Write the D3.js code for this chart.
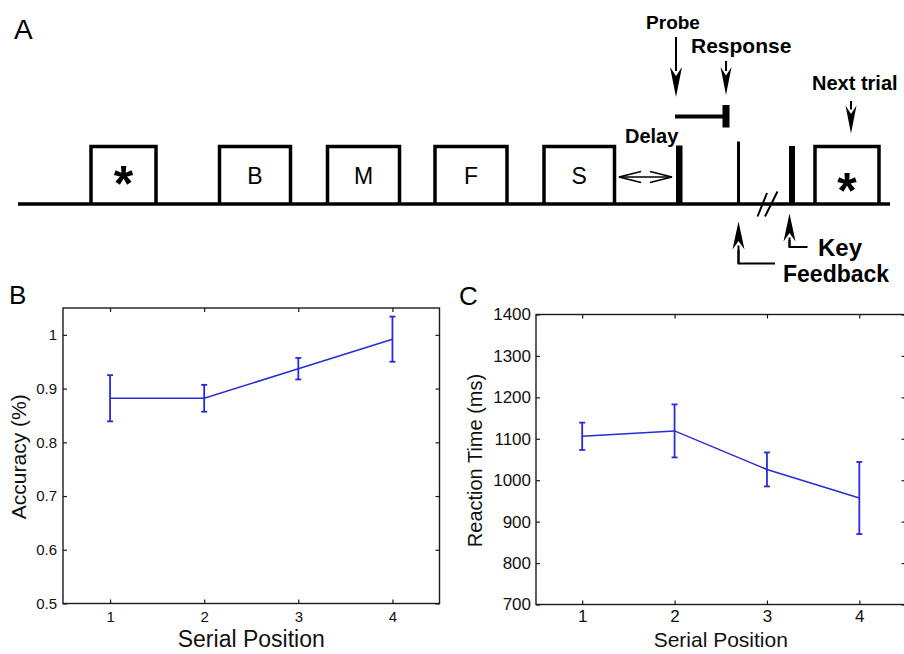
<!DOCTYPE html>
<html>
<head>
<meta charset="utf-8">
<script src="https://cdn.jsdelivr.net/npm/d3@7"></script>
<style>
  html, body { margin: 0; padding: 0; background: #fff; }
  svg { display: block; font-family: "Liberation Sans", Arial, Helvetica, sans-serif; }
</style>
</head>
<body>
<svg id="fig" width="904" height="654"></svg>
<script>
// ---------------- DATA ----------------
const serialPositions = [1, 2, 3, 4];
const accuracyMean = [0.882, 0.882, 0.937, 0.992];
const accuracyErr  = [0.043, 0.025, 0.020, 0.042];
const rtMean = [1106, 1119, 1026, 957];
const rtErr  = [33, 64, 41, 87];
const accuracyTicks = [0.5, 0.6, 0.7, 0.8, 0.9, 1.0];
const rtTicks = [700, 800, 900, 1000, 1100, 1200, 1300, 1400];
const stimulusLabels = ["*", "B", "M", "F", "S"];
const nextTrialLabel = "*";

// ---------------- LAYOUT ----------------
const svg = d3.select("#fig");
const blue = "#2a2ad6";
const axisColor = "#1a1a1a";

// Panel A: schematic of the trial
const A = svg.append("g");
A.append("text").attr("x", 14).attr("y", 39).attr("font-size", 28).text("A");

const baseY = 204;
const boxTop = 146.5;
const boxes = [
  {x0: 91, x1: 156}, {x0: 219.5, x1: 290.5}, {x0: 327.5, x1: 399.5},
  {x0: 435, x1: 507}, {x0: 544, x1: 614.5}
];
// baseline
A.append("line").attr("x1", 18).attr("x2", 890).attr("y1", baseY).attr("y2", baseY)
  .attr("stroke", "#000").attr("stroke-width", 3.5);

function stimBox(x0, x1, label, isStar, starY) {
  A.append("path")
    .attr("d", `M${x0},${baseY} L${x0},${boxTop} L${x1},${boxTop} L${x1},${baseY}`)
    .attr("fill", "none").attr("stroke", "#000").attr("stroke-width", 3.5)
    .attr("stroke-linejoin", "miter");
  const cx = (x0 + x1) / 2;
  if (isStar) {
    A.append("text").attr("x", cx).attr("y", starY)
      .attr("text-anchor", "middle").attr("font-weight", "bold")
      .attr("font-size", 50).text(label);
  } else {
    A.append("text").attr("x", cx).attr("y", 183.5)
      .attr("text-anchor", "middle").attr("font-size", 23).text(label);
  }
}
stimulusLabels.forEach((lab, i) => stimBox(boxes[i].x0, boxes[i].x1, lab, lab === "*", 201));
stimBox(815, 879, nextTrialLabel, true, 208);

// bars on the timeline
A.append("rect").attr("x", 676).attr("y", 145.5).attr("width", 6.5).attr("height", baseY - 145.5).attr("fill", "#000");
A.append("line").attr("x1", 738.5).attr("x2", 738.5).attr("y1", 141.5).attr("y2", baseY).attr("stroke", "#000").attr("stroke-width", 3);
A.append("rect").attr("x", 789).attr("y", 146).attr("width", 6).attr("height", baseY - 146).attr("fill", "#000");

// slashes
[[757.5, 216.5, 767, 193], [765, 216.5, 777.5, 191.5]].forEach(s => {
  A.append("line").attr("x1", s[0]).attr("y1", s[1]).attr("x2", s[2]).attr("y2", s[3])
    .attr("stroke", "#000").attr("stroke-width", 2);
});

// filled dart arrows
function arrow(x, yStart, yTip, headLen, hw) {
  const dir = yTip > yStart ? 1 : -1;
  const back = yTip - dir * headLen;
  A.append("line").attr("x1", x).attr("x2", x).attr("y1", yStart).attr("y2", back + dir * 4)
    .attr("stroke", "#000").attr("stroke-width", 2);
  A.append("path")
    .attr("d", `M${x},${yTip} L${x - hw},${back} L${x},${back + dir * headLen * 0.3} L${x + hw},${back} Z`)
    .attr("fill", "#000");
}
arrow(676, 37, 97, 30, 6);      // Probe
arrow(726, 61, 95, 28, 5.5);        // Response
arrow(851, 101, 133.5, 28, 5.5);    // Next trial
arrow(738.5, 263.5, 221.5, 28, 6); // Feedback
arrow(789.5, 247, 213.5, 28, 6);   // Key
// elbow lines
A.append("path").attr("d", "M738.5,250 L738.5,263.5 L775,263.5").attr("fill", "none").attr("stroke", "#000").attr("stroke-width", 2);
A.append("path").attr("d", "M789.5,240 L789.5,247 L807.5,247").attr("fill", "none").attr("stroke", "#000").attr("stroke-width", 2);

// response interval bar
A.append("line").attr("x1", 675).attr("x2", 724).attr("y1", 116.5).attr("y2", 116.5).attr("stroke", "#000").attr("stroke-width", 4);
A.append("rect").attr("x", 722.5).attr("y", 105).attr("width", 7).attr("height", 22.5).attr("fill", "#000");

// delay double arrow (open heads)
const dY = 177;
A.append("line").attr("x1", 619).attr("x2", 672).attr("y1", dY).attr("y2", dY).attr("stroke", "#000").attr("stroke-width", 1.5);
A.append("path").attr("d", `M641,${dY - 5.5} L619,${dY} L641,${dY + 5.5}`).attr("fill", "none").attr("stroke", "#000").attr("stroke-width", 1.6);
A.append("path").attr("d", `M650,${dY - 5.5} L672,${dY} L650,${dY + 5.5}`).attr("fill", "none").attr("stroke", "#000").attr("stroke-width", 1.6);

// labels
const lbl = (x, y, t, fs, anchor) => A.append("text").attr("x", x).attr("y", y)
  .attr("font-weight", "bold").attr("font-size", fs).attr("text-anchor", anchor || "start").text(t);
lbl(673, 29, "Probe", 19, "middle");
lbl(691, 53, "Response", 21);
lbl(812, 89.5, "Next trial", 20);
lbl(625, 143, "Delay", 20);
lbl(818, 256, "Key", 24);
lbl(783, 281.5, "Feedback", 23);

// ---------------- Panels B and C ----------------
function panel(opts) {
  const g = svg.append("g");
  const x = d3.scaleLinear().domain([0.5, 4.5]).range([opts.left, opts.right]);
  const y = d3.scaleLinear().domain(opts.yDomain).range([opts.bottom, opts.top]);

  // box
  g.append("rect").attr("x", opts.left).attr("y", opts.top)
    .attr("width", opts.right - opts.left).attr("height", opts.bottom - opts.top)
    .attr("fill", "none").attr("stroke", axisColor).attr("stroke-width", 1.4);

  const styleAxis = (sel, fs) => {
    sel.select(".domain").remove();
    sel.selectAll(".tick line").attr("stroke", axisColor).attr("stroke-width", 1.2);
    sel.selectAll(".tick text").attr("fill", "#111").attr("font-size", fs)
      .attr("font-family", "Liberation Sans, Arial, sans-serif");
  };

  const xAx = g.append("g").attr("transform", `translate(0,${opts.bottom})`)
    .call(d3.axisBottom(x).tickValues(serialPositions).tickFormat(d3.format("d"))
      .tickSizeInner(-4).tickSizeOuter(0).tickPadding(opts.xPad));
  styleAxis(xAx, opts.xTickFs);
  const xTop = g.append("g").attr("transform", `translate(0,${opts.top})`)
    .call(d3.axisTop(x).tickValues(serialPositions).tickFormat("").tickSizeInner(-4).tickSizeOuter(0));
  styleAxis(xTop, opts.xTickFs);

  const yAx = g.append("g").attr("transform", `translate(${opts.left},0)`)
    .call(d3.axisLeft(y).tickValues(opts.yTicks).tickFormat(opts.yFormat)
      .tickSizeInner(-4).tickSizeOuter(0).tickPadding(opts.yPad));
  styleAxis(yAx, opts.yTickFs);
  const yRight = g.append("g").attr("transform", `translate(${opts.right},0)`)
    .call(d3.axisRight(y).tickValues(opts.yTicks).tickFormat("").tickSizeInner(-4).tickSizeOuter(0));
  styleAxis(yRight, opts.yTickFs);

  // data line
  const pts = serialPositions.map((p, i) => ({p, m: opts.mean[i], e: opts.err[i]}));
  g.append("path").datum(pts)
    .attr("d", d3.line().x(d => x(d.p)).y(d => y(d.m)))
    .attr("fill", "none").attr("stroke", blue).attr("stroke-width", 1.5);
  const eb = g.selectAll(".eb").data(pts).enter().append("g");
  eb.append("line").attr("x1", d => x(d.p)).attr("x2", d => x(d.p))
    .attr("y1", d => y(d.m - d.e)).attr("y2", d => y(d.m + d.e))
    .attr("stroke", blue).attr("stroke-width", 1.8);
  [-1, 1].forEach(s => {
    eb.append("line").attr("x1", d => x(d.p) - 3).attr("x2", d => x(d.p) + 3)
      .attr("y1", d => y(d.m + s * d.e)).attr("y2", d => y(d.m + s * d.e))
      .attr("stroke", blue).attr("stroke-width", 1.8);
  });

  // axis labels
  g.append("text").attr("x", (opts.left + opts.right) / 2).attr("y", 646.5)
    .attr("text-anchor", "middle").attr("font-size", opts.xLabelFs).attr("fill", "#111").text("Serial Position");
  g.append("text")
    .attr("transform", `translate(${opts.yLabelX},${(opts.top + opts.bottom) / 2 + 1}) rotate(-90)`)
    .attr("text-anchor", "middle").attr("font-size", opts.yLabelFs).attr("fill", "#111").text(opts.yLabel);
  g.append("text").attr("x", opts.letterX).attr("y", opts.letterY).attr("font-size", 26).text(opts.letter);
}

panel({
  left: 63, right: 439.5, top: 308, bottom: 603.5,
  yDomain: [0.5, 1.05], yTicks: accuracyTicks, yFormat: d3.format("~g"),
  mean: accuracyMean, err: accuracyErr,
  xTickFs: 15, yTickFs: 15, xPad: 8, yPad: 6,
  xLabelFs: 23, yLabelFs: 21, yLabel: "Accuracy (%)", yLabelX: 26,
  letter: "B", letterX: 9, letterY: 303.5
});
panel({
  left: 536, right: 905.5, top: 314.5, bottom: 604.5,
  yDomain: [700, 1400], yTicks: rtTicks, yFormat: d3.format("d"),
  mean: rtMean, err: rtErr,
  xTickFs: 17, yTickFs: 17, xPad: 5, yPad: 5,
  xLabelFs: 21, yLabelFs: 20, yLabel: "Reaction Time (ms)", yLabelX: 482,
  letter: "C", letterX: 459, letterY: 305
});
</script>
</body>
</html>
